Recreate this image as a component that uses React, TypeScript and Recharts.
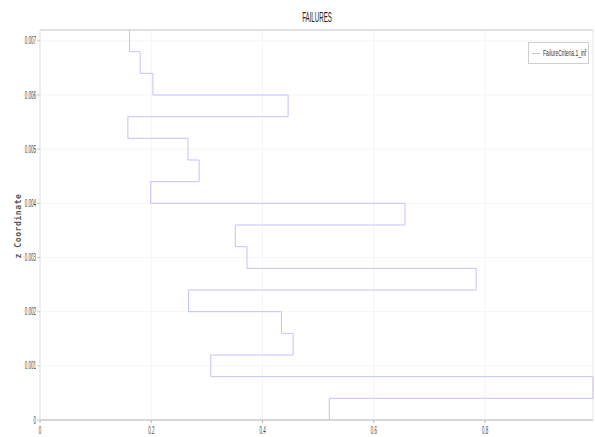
import {
  CartesianGrid,
  Legend,
  Line,
  LineChart,
  ReferenceLine,
  XAxis,
  YAxis,
} from 'recharts';

// z positions of the layer interfaces, bottom to top
const layerBounds = [
  0, 0.0004, 0.0008, 0.0012, 0.0016, 0.002, 0.0024, 0.0028, 0.0032, 0.0036,
  0.004, 0.0044, 0.0048, 0.0052, 0.0056, 0.006, 0.0064, 0.0068, 0.0072,
];

// failure criterion per layer, bottom to top
const failureValues = [
  0.52, 0.994, 0.307, 0.455, 0.434, 0.267, 0.784, 0.372, 0.351, 0.656, 0.199,
  0.286, 0.266, 0.158, 0.446, 0.203, 0.18, 0.161,
];

const xTicks = [0, 0.2, 0.4, 0.6, 0.8];
const zTicks = [0, 0.001, 0.002, 0.003, 0.004, 0.005, 0.006, 0.007];

const seriesName = 'FailureCriteria.1_inf';
const LINE_COLOR = '#c2c2ff';
const FONT = '"Liberation Sans", Arial, sans-serif';

// each layer is drawn as a vertical segment from its bottom to its top
const data = failureValues.flatMap((v, i) => [
  { z: layerBounds[i], v },
  { z: layerBounds[i + 1], v },
]);

const maxValue = Math.max(...failureValues);
const zTop = layerBounds[layerBounds.length - 1];

const formatX = (v: number): string => (v === 0 ? '0' : String(v));
const formatZ = (v: number): string => (v === 0 ? '0' : v.toFixed(3));

const XTick = ({ x, y, payload }: any) => (
  <g transform={`translate(${x},${y})`}>
    <text
      transform="scale(0.45,1)"
      textAnchor="middle"
      dy={9}
      fontSize={10}
      fontFamily={FONT}
      fill="#444"
    >
      {formatX(payload.value)}
    </text>
  </g>
);

const YTick = ({ x, y, payload }: any) => (
  <g transform={`translate(${x},${y})`}>
    <text
      transform="scale(0.45,1)"
      textAnchor="end"
      dy={3.5}
      fontSize={10}
      fontFamily={FONT}
      fill="#444"
    >
      {formatZ(payload.value)}
    </text>
  </g>
);

const LegendBox = () => (
  <div
    style={{
      width: 61,
      height: 22,
      boxSizing: 'border-box',
      border: '1px solid #cfcfcf',
      background: '#fff',
      display: 'flex',
      alignItems: 'center',
      fontFamily: FONT,
      fontSize: 9,
      color: '#333',
      overflow: 'hidden',
    }}
  >
    <span
      style={{
        display: 'inline-block',
        width: 8,
        height: 1,
        background: LINE_COLOR,
        margin: '0 3px 0 3px',
        flex: 'none',
      }}
    />
    <span
      style={{
        display: 'inline-block',
        whiteSpace: 'nowrap',
        transform: 'scaleX(0.55)',
        transformOrigin: 'left center',
      }}
    >
      {seriesName}
    </span>
  </div>
);

export default function App() {
  return (
    <div style={{ position: 'absolute', left: 0, top: 0 }}>
      <LineChart
        width={595}
        height={437}
        data={data}
        layout="vertical"
        margin={{ top: 30, right: 2, left: 0, bottom: 0 }}
      >
        <CartesianGrid stroke="#f5f5f5" />
        <XAxis
          type="number"
          domain={[0, 'dataMax']}
          ticks={xTicks}
          tick={<XTick />}
          tickSize={3}
          tickMargin={2}
          tickLine={{ stroke: '#b4b4b4' }}
          axisLine={{ stroke: '#b4b4b4' }}
          height={17}
        />
        <YAxis
          type="number"
          dataKey="z"
          reversed
          domain={[0, zTop]}
          ticks={zTicks}
          tick={<YTick />}
          tickSize={3}
          tickMargin={1}
          tickLine={{ stroke: '#c8c8c8' }}
          axisLine={{ stroke: '#e2e2e2' }}
          width={40}
        />
        <ReferenceLine y={zTop} stroke="#c8c8c8" />
        <ReferenceLine x={maxValue} stroke="#ededed" />
        <Legend
          layout="vertical"
          align="center"
          verticalAlign="middle"
          wrapperStyle={{ top: 42, left: 528, width: 61 }}
          content={<LegendBox />}
        />
        <Line
          dataKey="v"
          name={seriesName}
          type="linear"
          stroke={LINE_COLOR}
          strokeWidth={1}
          dot={false}
          activeDot={false}
          isAnimationActive={false}
        />
        <text
          x={317}
          y={22}
          textAnchor="middle"
          fontSize={14}
          fontFamily={FONT}
          fill="#222"
          transform="translate(317,0) scale(0.44,1) translate(-317,0)"
        >
          FAILURES
        </text>
        <text
          x={21}
          y={226}
          textAnchor="middle"
          fontSize={8}
          fontWeight="bold"
          fontFamily='"DejaVu Sans Mono", monospace'
          letterSpacing={0.6}
          fill="#555"
          transform="rotate(-90, 21, 226)"
        >
          z Coordinate
        </text>
      </LineChart>
    </div>
  );
}
